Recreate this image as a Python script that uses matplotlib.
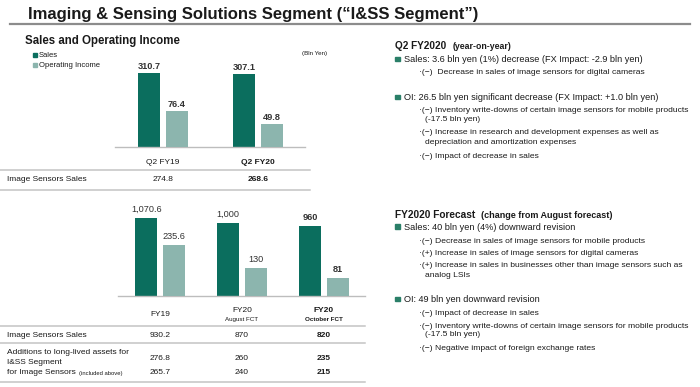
import matplotlib.pyplot as plt
from matplotlib.lines import Line2D
from matplotlib.patches import Rectangle
from matplotlib.transforms import blended_transform_factory

plt.rcParams['font.family'] = ['Liberation Sans', 'DejaVu Sans']

W, H = 700, 387

# Q2 data
q_labels = ['Q2 FY19', 'Q2 FY20']
q_sales = [310.7, 307.1]
q_oi = [76.4, 49.8]
q_img_sales = ['274.8', '268.6']
q_bold = [False, True]

# full-year data
fy_labels = ['FY19', 'FY20', 'FY20']
fy_sub = ['', 'August FCT', 'October FCT']
fy_sales = [1070.6, 1000, 960]
fy_sales_txt = ['1,070.6', '1,000', '960']
fy_oi = [235.6, 130, 81]
fy_img_sales = ['930.2', '870', '820']
fy_assets = ['276.8', '260', '235']
fy_assets_img = ['265.7', '240', '215']
fy_bold = [False, False, True]

SALES_C = '#0b6e5e'
OI_C = '#8cb5ae'
TXT = '#1a1a1a'
RULE = '#c4c4c4'
BULLET_C = '#2a7f68'

fig = plt.figure(figsize=(7, 3.87), dpi=100)


def txt(x, y, s, size, weight='normal', ha='left', color=TXT):
    fig.text(x / W, 1 - y / H, s, fontsize=size, fontweight=weight,
             ha=ha, va='center', color=color)


def hline(x0, x1, y, lw=1.1, color=RULE):
    fig.add_artist(Line2D([x0 / W, x1 / W], [1 - y / H, 1 - y / H],
                          lw=lw, color=color, transform=fig.transFigure))


def square(x, y, size, color):
    fig.add_artist(Rectangle((x / W, 1 - (y + size / 2) / H), size / W, size / H,
                             color=color, transform=fig.transFigure))


def bar_axes(left, right, top, bottom, sales_top, oi_top, xlim):
    ax = fig.add_axes([left / W, 1 - bottom / H, (right - left) / W, (bottom - top) / H])
    ax.set_ylim(0, sales_top)
    ax.set_xlim(*xlim)
    ax2 = ax.twinx()
    ax2.set_ylim(0, oi_top)
    for a in (ax, ax2):
        for sp in a.spines.values():
            sp.set_visible(False)
        a.set_xticks([])
        a.set_yticks([])
        a.patch.set_visible(False)
    ax.spines['bottom'].set_visible(True)
    ax.spines['bottom'].set_color('#bdbdbd')
    ax.spines['bottom'].set_linewidth(1.0)
    return ax, ax2


# ---- title
txt(28, 14, 'Imaging & Sensing Solutions Segment (\u201cI&SS Segment\u201d)', 12, 'bold')
hline(10, 690, 23.5, lw=1.6, color='#8c8c8c')

# ---- left top chart
txt(25, 41, 'Sales and Operating Income', 8.3, 'bold')
square(32.5, 54.8, 4.2, SALES_C)
square(32.5, 64.8, 4.2, OI_C)
txt(39, 55.5, 'Sales', 5.5)
txt(39, 65.5, 'Operating Income', 5.5)
txt(315, 53, '(Bln Yen)', 4.5, ha='center')

ax, ax2 = bar_axes(115, 305, 60, 147, 87 / 0.238, 87 / 0.465, (-48 / 95, 142 / 95))
idx = range(len(q_labels))
off, bw = 0.147, 0.232
ax.bar([i - off for i in idx], q_sales, bw, color=SALES_C)
ax2.bar([i + off for i in idx], q_oi, bw, color=OI_C)
for i in idx:
    ax.annotate(f'{q_sales[i]:.1f}', (i - off, q_sales[i]), xytext=(0, 1.5), textcoords='offset points',
                ha='center', va='bottom', fontsize=6.6, fontweight='bold', color='#333333')
    ax2.annotate(f'{q_oi[i]:.1f}', (i + off, q_oi[i]), xytext=(0, 1.5), textcoords='offset points',
                 ha='center', va='bottom', fontsize=6.6, fontweight='bold', color='#333333')
tr = blended_transform_factory(ax.transData, fig.transFigure)
for i in idx:
    w = 'bold' if q_bold[i] else 'normal'
    ax.text(i, 1 - 163 / H, q_labels[i], transform=tr, ha='center', va='center', fontsize=6, fontweight=w, color=TXT)
    ax.text(i, 1 - 180 / H, q_img_sales[i], transform=tr, ha='center', va='center', fontsize=6, fontweight=w, color=TXT)
hline(0, 310, 170)
hline(0, 310, 190)
txt(7, 180, 'Image Sensors Sales', 6)

# ---- left bottom chart
bx, bx2 = bar_axes(118, 365, 205, 296, 91 / 0.0726, 91 / 0.217, (-42 / 82, 205 / 82))
idx = range(len(fy_labels))
off, bw = 0.168, 0.262
bx.bar([i - off for i in idx], fy_sales, bw, color=SALES_C)
bx2.bar([i + off for i in idx], fy_oi, bw, color=OI_C)
for i in idx:
    w = 'bold' if fy_bold[i] else 'normal'
    bx.annotate(fy_sales_txt[i], (i - off, fy_sales[i]), xytext=(0, 3), textcoords='offset points',
                ha='center', va='bottom', fontsize=6.6, fontweight=w, color='#333333')
    bx2.annotate(f'{fy_oi[i]:g}', (i + off, fy_oi[i]), xytext=(0, 3), textcoords='offset points',
                 ha='center', va='bottom', fontsize=6.6, fontweight=w, color='#333333')
tr = blended_transform_factory(bx.transData, fig.transFigure)
for i in idx:
    w = 'bold' if fy_bold[i] else 'normal'
    if fy_sub[i]:
        bx.text(i, 1 - 311 / H, fy_labels[i], transform=tr, ha='center', va='center', fontsize=6, fontweight=w, color=TXT)
        bx.text(i, 1 - 319.5 / H, fy_sub[i], transform=tr, ha='center', va='center', fontsize=4.5, fontweight=w, color=TXT)
    else:
        bx.text(i, 1 - 315 / H, fy_labels[i], transform=tr, ha='center', va='center', fontsize=6, fontweight=w, color=TXT)
    bx.text(i, 1 - 335.5 / H, fy_img_sales[i], transform=tr, ha='center', va='center', fontsize=6, fontweight=w, color=TXT)
    bx.text(i, 1 - 358.5 / H, fy_assets[i], transform=tr, ha='center', va='center', fontsize=6, fontweight=w, color=TXT)
    bx.text(i, 1 - 373 / H, fy_assets_img[i], transform=tr, ha='center', va='center', fontsize=6, fontweight=w, color=TXT)
hline(0, 365, 325.7)
hline(0, 365, 343)
hline(0, 365, 381.7)
txt(7, 335.5, 'Image Sensors Sales', 6)
txt(7, 353, 'Additions to long-lived assets for', 6)
txt(7, 363, 'I&SS Segment', 6)
txt(7, 373, 'for Image Sensors', 6)
txt(79, 373.5, '(included above)', 4.2)

# ---- right text
MAIN, SUB = 6.6, 6.1


def bullet(y, s):
    square(395.5, y - 0.8, 4.5, BULLET_C)
    txt(404, y, s, MAIN)


txt(395, 45.7, 'Q2 FY2020', 7.2, 'bold')
txt(452.5, 46.3, '(year-on-year)', 6.3, 'bold')
bullet(60, 'Sales: 3.6 bln yen (1%) decrease (FX Impact: -2.9 bln yen)')
txt(419, 73, '\u00b7(\u2212)  Decrease in sales of image sensors for digital cameras', SUB)
bullet(98, 'OI: 26.5 bln yen significant decrease (FX Impact: +1.0 bln yen)')
txt(419, 111, '\u00b7(\u2212) Inventory write-downs of certain image sensors for mobile products', SUB)
txt(425, 119.5, '(-17.5 bln yen)', SUB)
txt(419, 133, '\u00b7(\u2212) Increase in research and development expenses as well as', SUB)
txt(425, 143, 'depreciation and amortization expenses', SUB)
txt(419, 156.7, '\u00b7(\u2212) Impact of decrease in sales', SUB)

txt(395, 215, 'FY2020 Forecast', 7.3, 'bold')
txt(481, 215.6, '(change from August forecast)', 6.5, 'bold')
bullet(227.3, 'Sales: 40 bln yen (4%) downward revision')
txt(419, 241.7, '\u00b7(\u2212) Decrease in sales of image sensors for mobile products', SUB)
txt(419, 253.3, '\u00b7(+) Increase in sales of image sensors for digital cameras', SUB)
txt(419, 265.7, '\u00b7(+) Increase in sales in businesses other than image sensors such as', SUB)
txt(425, 275.7, 'analog LSIs', SUB)
bullet(300, 'OI: 49 bln yen downward revision')
txt(419, 313.3, '\u00b7(\u2212) Impact of decrease in sales', SUB)
txt(419, 326, '\u00b7(\u2212) Inventory write-downs of certain image sensors for mobile products', SUB)
txt(425, 335, '(-17.5 bln yen)', SUB)
txt(419, 349, '\u00b7(\u2212) Negative impact of foreign exchange rates', SUB)

fig.savefig('out.png', dpi=100)
